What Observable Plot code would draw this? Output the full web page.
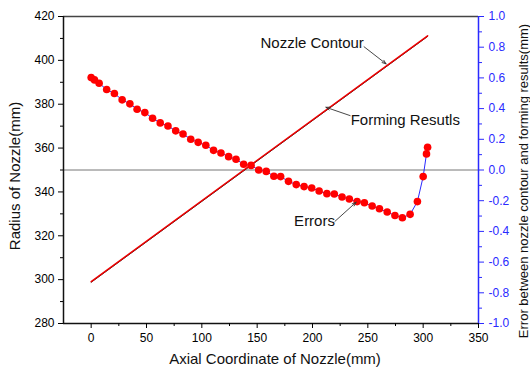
<!DOCTYPE html>
<html>
<head>
<meta charset="utf-8">
<script src="https://cdn.jsdelivr.net/npm/d3@7"></script>
<script src="https://cdn.jsdelivr.net/npm/@observablehq/plot@0.6"></script>
<style>
  html, body { margin: 0; padding: 0; background: #fff; }
  svg { overflow: visible; }
</style>
</head>
<body>
<div id="chart"></div>
<script>
// Nozzle contour and forming results (radius, mm) vs axial coordinate (mm)
const contourX = [0, 304];
const contourR = [298.8, 410.9];
const formingX = [0, 304];
const formingR = [299.1, 411.2];

// Errors (mm) between contour and forming results
const errX = [0, 3, 7.2, 14, 21, 28, 35, 41.5, 48.5, 55.5, 62.4, 69.4, 76.4, 83, 90, 96.7,
  103.6, 110.6, 117.3, 124.2, 130.9, 137.8, 144.5, 151.4, 158.2, 165.1, 171.2, 178.3, 185.3,
  192.4, 199.3, 206, 213, 219.7, 226.7, 233.3, 240.3, 246.9, 253.9, 260.5, 267.5, 274.5,
  281.2, 288.2, 294.8, 300, 303, 304];
const errV = [0.602, 0.587, 0.565, 0.524, 0.498, 0.457, 0.431, 0.396, 0.374, 0.337, 0.307,
  0.287, 0.255, 0.235, 0.2, 0.18, 0.161, 0.128, 0.111, 0.087, 0.07, 0.037, 0.03, 0.0, -0.009,
  -0.041, -0.043, -0.074, -0.095, -0.108, -0.117, -0.137, -0.154, -0.156, -0.176, -0.189,
  -0.206, -0.213, -0.235, -0.252, -0.274, -0.296, -0.311, -0.289, -0.206, -0.043, 0.105, 0.148];

// Tick values
const xTicks = [0, 50, 100, 150, 200, 250, 300, 350];
const xMinor = [25, 75, 125, 175, 225, 275, 325];
const rTicks = [280, 300, 320, 340, 360, 380, 400, 420];
const rMinor = [290, 310, 330, 350, 370, 390, 410];
const eTicks = [-1.0, -0.8, -0.6, -0.4, -0.2, 0.0, 0.2, 0.4, 0.6, 0.8, 1.0];
const eMinor = [-0.9, -0.7, -0.5, -0.3, -0.1, 0.1, 0.3, 0.5, 0.7, 0.9];

// Annotations (data space): label, text x, text r, anchor, arrow from x/r, arrow to x/r
const annLabels = ["Nozzle Contour", "Forming Resutls", "Errors"];
const annTextX = [153, 234.5, 220.3];
const annTextR = [407.7, 372.5, 326.8];
const annAnchor = ["start", "start", "end"];
const arrFromX = [246.6, 234.0, 220.3];
const arrFromR = [406.2, 374.8, 326.6];
const arrToX = [266.5, 212.1, 239.4];
const arrToR = [398.4, 378.6, 335.3];

// Error axis mapped onto radius scale: r = 350 + 70 * err
const eToR = e => 350 + 70 * e;

const contour = contourX.map((x, i) => ({x, r: contourR[i]}));
const forming = formingX.map((x, i) => ({x, r: formingR[i]}));
const errors = errX.map((x, i) => ({x, e: errV[i]}));
const anns = annLabels.map((t, i) => ({
  t, tx: annTextX[i], tr: annTextR[i], anchor: annAnchor[i],
  x1: arrFromX[i], y1: arrFromR[i], x2: arrToX[i], y2: arrToR[i]
}));

const blue = "#2a2aff";
const fmtE = r => { const e = (r - 350) / 70; return (Math.abs(e) < 1e-9 ? 0 : e).toFixed(1); };

const chart = Plot.plot({
  width: 530,
  height: 371,
  marginLeft: 63,
  marginRight: 52,
  marginTop: 16,
  marginBottom: 48,
  style: {fontFamily: "'Liberation Sans', Arial, sans-serif", fontSize: "12px", background: "#fff", color: "#000"},
  x: {domain: [-25, 350]},
  y: {domain: [280, 420]},
  marks: [
    // zero-error reference line
    Plot.ruleY([eToR(0)], {stroke: "#777", strokeWidth: 1}),
    // contour and forming lines
    Plot.line(contour, {x: "x", y: "r", stroke: "#111", strokeWidth: 1.0}),
    Plot.line(forming, {x: "x", y: "r", stroke: "#ee0000", strokeWidth: 1.5}),
    // errors
    Plot.line(errors, {x: "x", y: d => eToR(d.e), stroke: blue, strokeWidth: 1}),
    Plot.dot(errors, {x: "x", y: d => eToR(d.e), r: 3.8, fill: "#ff0000", stroke: "none"}),
    // annotations
    Plot.arrow(anns, {x1: "x1", y1: "y1", x2: "x2", y2: "y2", stroke: "#333", strokeWidth: 0.9, headLength: 7, headAngle: 40}),
    Plot.text(anns.filter(d => d.anchor === "start"), {x: "tx", y: "tr", text: "t", textAnchor: "start", fontSize: 15, fill: "#111"}),
    Plot.text(anns.filter(d => d.anchor === "end"), {x: "tx", y: "tr", text: "t", textAnchor: "end", fontSize: 15, fill: "#111"}),
    // frame lines
    Plot.ruleY([420], {stroke: "#444", strokeWidth: 1.5}),
    Plot.ruleY([280], {stroke: "#111", strokeWidth: 1.5}),
    Plot.ruleX([-25], {stroke: "#111", strokeWidth: 1.5}),
    Plot.ruleX([350], {stroke: blue, strokeWidth: 1.5}),
    // bottom axis
    Plot.axisX(xTicks, {anchor: "bottom", tickSize: 5, tickPadding: 5, label: null, fontSize: 12}),
    Plot.axisX(xMinor, {anchor: "bottom", tickSize: 3, tickFormat: () => "", label: null}),
    // left axis
    Plot.axisY(rTicks, {anchor: "left", tickSize: 5, tickPadding: 4, label: null, fontSize: 12}),
    Plot.axisY(rMinor, {anchor: "left", tickSize: 3, tickFormat: () => "", label: null}),
    // right axis (error)
    Plot.axisY(eTicks.map(eToR), {anchor: "right", tickSize: 5, tickPadding: 5, tickFormat: fmtE, label: null, color: blue, fontSize: 12}),
    Plot.axisY(eMinor.map(eToR), {anchor: "right", tickSize: 3, tickFormat: () => "", label: null, color: blue}),
    // axis titles
    Plot.text(["Axial Coordinate of Nozzle(mm)"], {frameAnchor: "bottom", textAnchor: "middle", dx: 4, dy: 40, fontSize: 15, fill: "#111"}),
    Plot.text(["Radius of Nozzle(mm)"], {frameAnchor: "left", textAnchor: "middle", rotate: -90, dx: -48, dy: 6, fontSize: 15, fill: "#111"}),
    Plot.text(["Error between nozzle contour and forming results(mm)"], {frameAnchor: "right", textAnchor: "middle", rotate: -90, dx: 45, dy: 11, fontSize: 13, fill: "#111"})
  ]
});
document.getElementById("chart").appendChild(chart);
</script>
</body>
</html>
